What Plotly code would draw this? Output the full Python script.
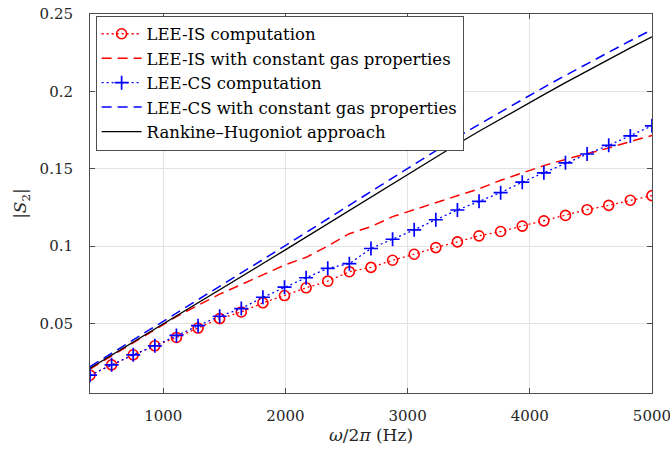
import plotly.graph_objects as go

# Excitation frequency omega/2pi (Hz)
freq = [400.0, 576.9, 753.8, 930.8, 1107.7, 1284.6, 1461.5, 1638.5, 1815.4,
        1992.3, 2169.2, 2346.2, 2523.1, 2700.0, 2876.9, 3053.8, 3230.8,
        3407.7, 3584.6, 3761.5, 3938.5, 4115.4, 4292.3, 4469.2, 4646.2,
        4823.1, 5000.0]

# |S2| for each model
lee_is = [0.0165, 0.0232, 0.0297, 0.0355, 0.0409, 0.0470, 0.0531, 0.0574,
          0.0633, 0.0680, 0.0730, 0.0773, 0.0834, 0.0862, 0.0908, 0.0947,
          0.0990, 0.1027, 0.1066, 0.1094, 0.1129, 0.1163, 0.1198, 0.1235,
          0.1263, 0.1296, 0.1326]
lee_is_const = [0.0205, 0.0290, 0.0375, 0.0458, 0.0544, 0.0617, 0.0689,
                0.0751, 0.0815, 0.0877, 0.0927, 0.1000, 0.1080, 0.1125,
                0.1190, 0.1235, 0.1280, 0.1325, 0.1370, 0.1425, 0.1475,
                0.1520, 0.1560, 0.1595, 0.1634, 0.1675, 0.1715]
lee_cs = [0.0165, 0.0232, 0.0297, 0.0355, 0.0422, 0.0485, 0.0546, 0.0596,
          0.0669, 0.0734, 0.0795, 0.0856, 0.0886, 0.0984, 0.1044, 0.1105,
          0.1170, 0.1233, 0.1289, 0.1345, 0.1413, 0.1473, 0.1538, 0.1595,
          0.1651, 0.1712, 0.1777]
lee_cs_const = [0.0220, 0.0306, 0.0392, 0.0478, 0.0565, 0.0652, 0.0739,
                0.0826, 0.0913, 0.1000, 0.1088, 0.1176, 0.1265, 0.1353,
                0.1442, 0.1530, 0.1617, 0.1704, 0.1786, 0.1867, 0.1947,
                0.2026, 0.2103, 0.2179, 0.2254, 0.2327, 0.2398]
rankine_hugoniot = [0.0210, 0.0294, 0.0378, 0.0462, 0.0547, 0.0632, 0.0717,
                    0.0802, 0.0887, 0.0972, 0.1058, 0.1145, 0.1232, 0.1318,
                    0.1405, 0.1491, 0.1576, 0.1660, 0.1742, 0.1822, 0.1901,
                    0.1979, 0.2056, 0.2132, 0.2207, 0.2281, 0.2353]

x_ticks = [1000, 2000, 3000, 4000, 5000]
x_tick_text = ["1000", "2000", "3000", "4000", "5000"]
y_ticks = [0.05, 0.1, 0.15, 0.2, 0.25]
y_tick_text = ["0.05", "0.1", "0.15", "0.2", "0.25"]

RED = "#ff0000"
BLUE = "#0000ff"
FONT = "DejaVu Serif"
DOTS = "2px,3px"
DASHES = "10px,6px"

fig = go.Figure()
fig.add_trace(go.Scatter(
    x=freq, y=lee_is, mode="lines+markers", name="LEE-IS computation",
    line=dict(color=RED, width=1.3, dash=DOTS),
    marker=dict(symbol="circle-open", size=10, color=RED,
                line=dict(color=RED, width=1.6))))
fig.add_trace(go.Scatter(
    x=freq, y=lee_is_const, mode="lines",
    name="LEE-IS with constant gas properties",
    line=dict(color=RED, width=1.5, dash=DASHES)))
fig.add_trace(go.Scatter(
    x=freq, y=lee_cs, mode="lines+markers", name="LEE-CS computation",
    line=dict(color=BLUE, width=1.3, dash=DOTS),
    marker=dict(symbol="cross-thin", size=10, color=BLUE,
                line=dict(color=BLUE, width=1.7))))
fig.add_trace(go.Scatter(
    x=freq, y=lee_cs_const, mode="lines",
    name="LEE-CS with constant gas properties",
    line=dict(color=BLUE, width=1.5, dash=DASHES)))
fig.add_trace(go.Scatter(
    x=freq, y=rankine_hugoniot, mode="lines",
    name="Rankine–Hugoniot approach",
    line=dict(color="black", width=1.3)))

axis_common = dict(
    showline=True, linecolor="#4d4d4d", linewidth=1, mirror="ticks",
    ticks="inside", ticklen=5, tickcolor="#4d4d4d", tickwidth=1,
    showgrid=True, gridcolor="#e3e3e3", gridwidth=1, zeroline=False,
    tickfont=dict(family=FONT, size=15, color="#262626"),
    ticklabeloverflow="allow",
)

fig.update_xaxes(
    range=[400, 5000.5], tickvals=x_ticks, ticktext=x_tick_text,
    ticklabelstandoff=9,
    title=dict(text="<i>ω</i>/2<i>π</i> (Hz)",
               font=dict(family=FONT, size=17, color="#262626"), standoff=4),
    **axis_common)
fig.update_yaxes(
    range=[0.005, 0.25], tickvals=y_ticks, ticktext=y_tick_text,
    ticklabelstandoff=13,
    title=dict(text="|<i>S</i><sub>2</sub>|",
               font=dict(family=FONT, size=17, color="#262626"), standoff=8),
    **axis_common)

fig.update_layout(
    width=670, height=452,
    margin=dict(l=90, r=18, t=14, b=59, autoexpand=False),
    paper_bgcolor="white", plot_bgcolor="white",
    showlegend=True,
    legend=dict(
        x=0.01, y=0.996, xanchor="left", yanchor="top",
        bgcolor="white", bordercolor="#4d4d4d", borderwidth=1,
        font=dict(family=FONT, size=16.5, color="#000000"),
        tracegroupgap=0, itemwidth=40,
    ),
)

fig.write_html("out.html")
